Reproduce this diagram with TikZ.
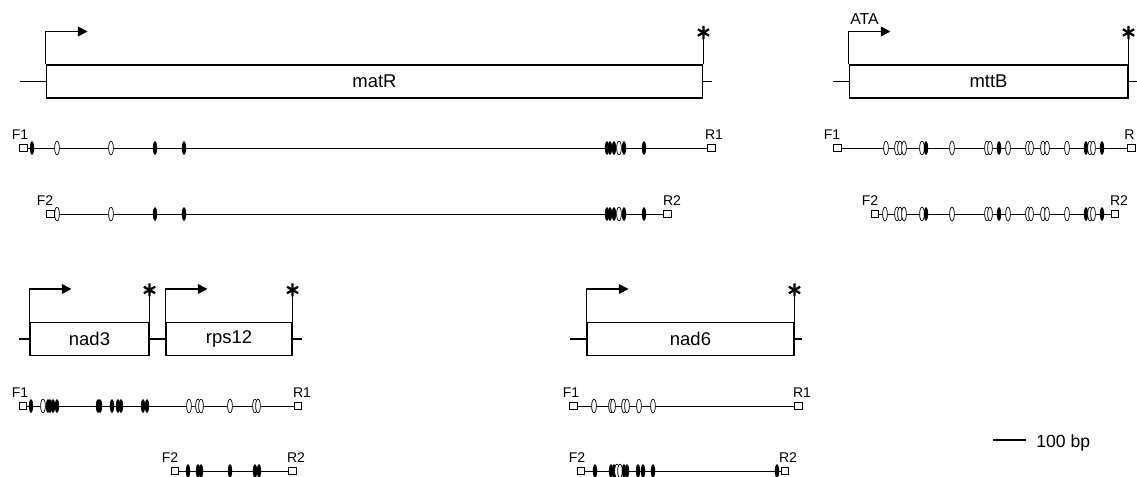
\documentclass[tikz,border=0pt]{standalone}
\usepackage{fontspec}
\setmainfont{Liberation Sans}
\usetikzlibrary{arrows.meta,shapes.geometric}
\begin{document}
\begin{tikzpicture}[x=0.02cm,y=-0.02cm,
  gene/.style={draw, line width=0.6pt, minimum height=0.66cm, inner sep=0pt, font=\fontsize{10.5}{12}\selectfont},
  ln/.style={line width=0.6pt},
  pl/.style={line width=0.55pt},
  primer/.style={draw, fill=white, line width=0.45pt, minimum width=0.155cm, minimum height=0.125cm, inner sep=0pt},
  fm/.style={ellipse, fill=black, minimum width=0.085cm, minimum height=0.27cm, inner sep=0pt},
  om/.style={ellipse, draw, fill=white, line width=0.4pt, minimum width=0.095cm, minimum height=0.27cm, inner sep=0pt},
  plab/.style={anchor=base, inner sep=0pt, font=\fontsize{8}{9}\selectfont},
  tss/.style={line width=0.6pt, -{Triangle[length=5.5pt,width=5.6pt]}},
  pics/ast/.style={code={\draw[line width=1.3pt] (90:0.13cm)--(270:0.13cm) (30:0.13cm)--(210:0.13cm) (150:0.13cm)--(330:0.13cm);}}
]
\useasboundingbox (0,0) rectangle (1137,477);

% ---------------- gene boxes ----------------
\node[gene, minimum width=13.14cm] (matR) at (374.5,81.5) {matR};
\node[gene, minimum width=5.58cm] (mttB) at (988.5,81.5) {mttB};
\node[gene, minimum width=2.38cm] (nad3) at (89.5,339) {nad3};
\node[gene, minimum width=2.52cm] (rps12) at (229,339) {rps12};
\node[gene, minimum width=4.14cm] (nad6) at (690.5,339) {nad6};

% stubs
\coordinate (matRl) at (20,81.5);  \coordinate (matRr) at (712,81.5);
\coordinate (mttBl) at (833,81.5); \coordinate (mttBr) at (1137,81.5);
\coordinate (nad3l) at (19,339);   \coordinate (rps12r) at (302,339);
\coordinate (nad6l) at (570,339);  \coordinate (nad6r) at (802,339);
\draw[ln] (matRl) -- (matR.west) (matR.east) -- (matRr);
\draw[ln] (mttBl) -- (mttB.west) (mttB.east) -- (mttBr);
\draw[ln] (nad3l) -- (nad3.west) (nad3.east) -- (rps12.west) (rps12.east) -- (rps12r);
\draw[ln] (nad6l) -- (nad6.west) (nad6.east) -- (nad6r);

% start arrows and stop marks
\foreach \g in {matR,mttB,nad3,rps12,nad6}{
  \draw[tss] (\g.north west) -- ++(0,0.66cm) -- ++(0.84cm,0);
  \draw[ln] (\g.north east) -- ++(0,0.64cm) coordinate (\g s);
  \pic at (\g s) {ast};
}
\node[anchor=base west, inner sep=0pt, font=\fontsize{9}{10}\selectfont] (ata) at (850,24) {ATA};

% ---------------- matR amplicons ----------------
\node[primer] (mF1) at (23.5,148) {};
\node[primer] (mR1) at (711.5,148) {};
\draw[pl] (mF1) -- (mR1);
\foreach \x/\t [count=\i] in {32/fm,57/om,111/om,155/fm,184/fm,607/fm,610/fm,614/fm,619/om,624/fm,644/fm}
  \node[\t] (mA\i) at (\x,148) {};
\node[primer] (mF1b) at (23.5,148) {};
\node[plab] (mF1l) at (20,139) {F1};
\node[plab] (mR1l) at (714,139) {R1};

\node[primer] (mF2) at (50.5,214) {};
\node[primer] (mR2) at (667.5,214) {};
\draw[pl] (mF2) -- (mR2);
\foreach \x/\t [count=\i] in {57/om,111/om,155/fm,184/fm,607/fm,610/fm,614/fm,619/om,624/fm,644/fm}
  \node[\t] (mB\i) at (\x,214) {};
\node[primer] (mF2b) at (50.5,214) {};
\node[plab] (mF2l) at (45,205) {F2};
\node[plab] (mR2l) at (672,205) {R2};

% ---------------- mttB amplicons ----------------
\node[primer] (tF1) at (837.5,148) {};
\node[primer] (tR1) at (1131.5,148) {};
\draw[pl] (tF1) -- (tR1);
\foreach \x/\t [count=\i] in {886/om,897/om,900/om,904/om,922/om,926/fm,952/om,987/om,990/om,999/fm,1008/om,1028/om,1031/om,1043/om,1047/om,1067/om,1086/fm,1090/om,1093/om,1102/fm}
  \node[\t] (tA\i) at (\x,148) {};
\node[plab] (tF1l) at (832,139) {F1};
\node[plab, anchor=base west] (tR1l) at (1124,139) {R};

\node[primer] (tF2) at (875,214) {};
\node[primer] (tR2) at (1115,214) {};
\draw[pl] (tF2) -- (tR2);
\foreach \x/\t [count=\i] in {885/om,897/om,900/om,904/om,922/om,926/fm,952/om,987/om,990/om,999/fm,1008/om,1028/om,1031/om,1043/om,1047/om,1067/om,1086/fm,1090/om,1093/om,1102/fm}
  \node[\t] (tB\i) at (\x,214) {};
\node[plab] (tF2l) at (870,205) {F2};
\node[plab] (tR2l) at (1119,205) {R2};

% ---------------- nad3 / rps12 amplicons ----------------
\node[primer] (nF1) at (23,406) {};
\node[primer] (nR1) at (298,406) {};
\draw[pl] (nF1) -- (nR1);
\foreach \x/\t [count=\i] in {31/fm,43/om,48/fm,50/fm,53/fm,57/fm,98/fm,100/fm,112/fm,118/fm,121/fm,143/fm,147/fm,189/om,198/om,201/om,230/om,255/om,258/om}
  \node[\t] (nA\i) at (\x,406) {};
\node[plab] (nF1l) at (20,397) {F1};
\node[plab] (nR1l) at (302,397) {R1};

\node[primer] (nF2) at (175,471) {};
\node[primer] (nR2) at (292.5,471) {};
\draw[pl] (nF2) -- (nR2);
\foreach \x/\t [count=\i] in {188/fm,198/fm,201/fm,230/fm,255/fm,259/fm}
  \node[\t] (nB\i) at (\x,471) {};
\node[plab] (nF2l) at (170,462) {F2};
\node[plab] (nR2l) at (296,462) {R2};

% ---------------- nad6 amplicons ----------------
\node[primer] (dF1) at (573.5,406) {};
\node[primer] (dR1) at (798.5,406) {};
\draw[pl] (dF1) -- (dR1);
\foreach \x/\t [count=\i] in {594/om,611/om,613/om,624/om,627/om,639/om,653/om}
  \node[\t] (dA\i) at (\x,406) {};
\node[plab] (dF1l) at (571,397) {F1};
\node[plab] (dR1l) at (802,397) {R1};

\node[primer] (dF2) at (581,471) {};
\node[primer] (dR2) at (785,471) {};
\draw[pl] (dF2) -- (dR2);
\foreach \x/\t [count=\i] in {595/fm,611/fm,614/fm,617/om,620/om,624/fm,627/fm,638/fm,643/fm,653/fm,777/fm}
  \node[\t] (dB\i) at (\x,471) {};
\node[primer] (dR2b) at (785,471) {};
\node[plab] (dF2l) at (577,462) {F2};
\node[plab] (dR2l) at (788,462) {R2};

% ---------------- scale bar ----------------
\coordinate (sb1) at (993,440);
\coordinate (sb2) at (1026,440);
\draw[ln] (sb1) -- (sb2);
\node[anchor=base west, inner sep=0pt, font=\fontsize{10}{12}\selectfont] (sbl) at (1036,447) {100 bp};
\end{tikzpicture}
\end{document}
